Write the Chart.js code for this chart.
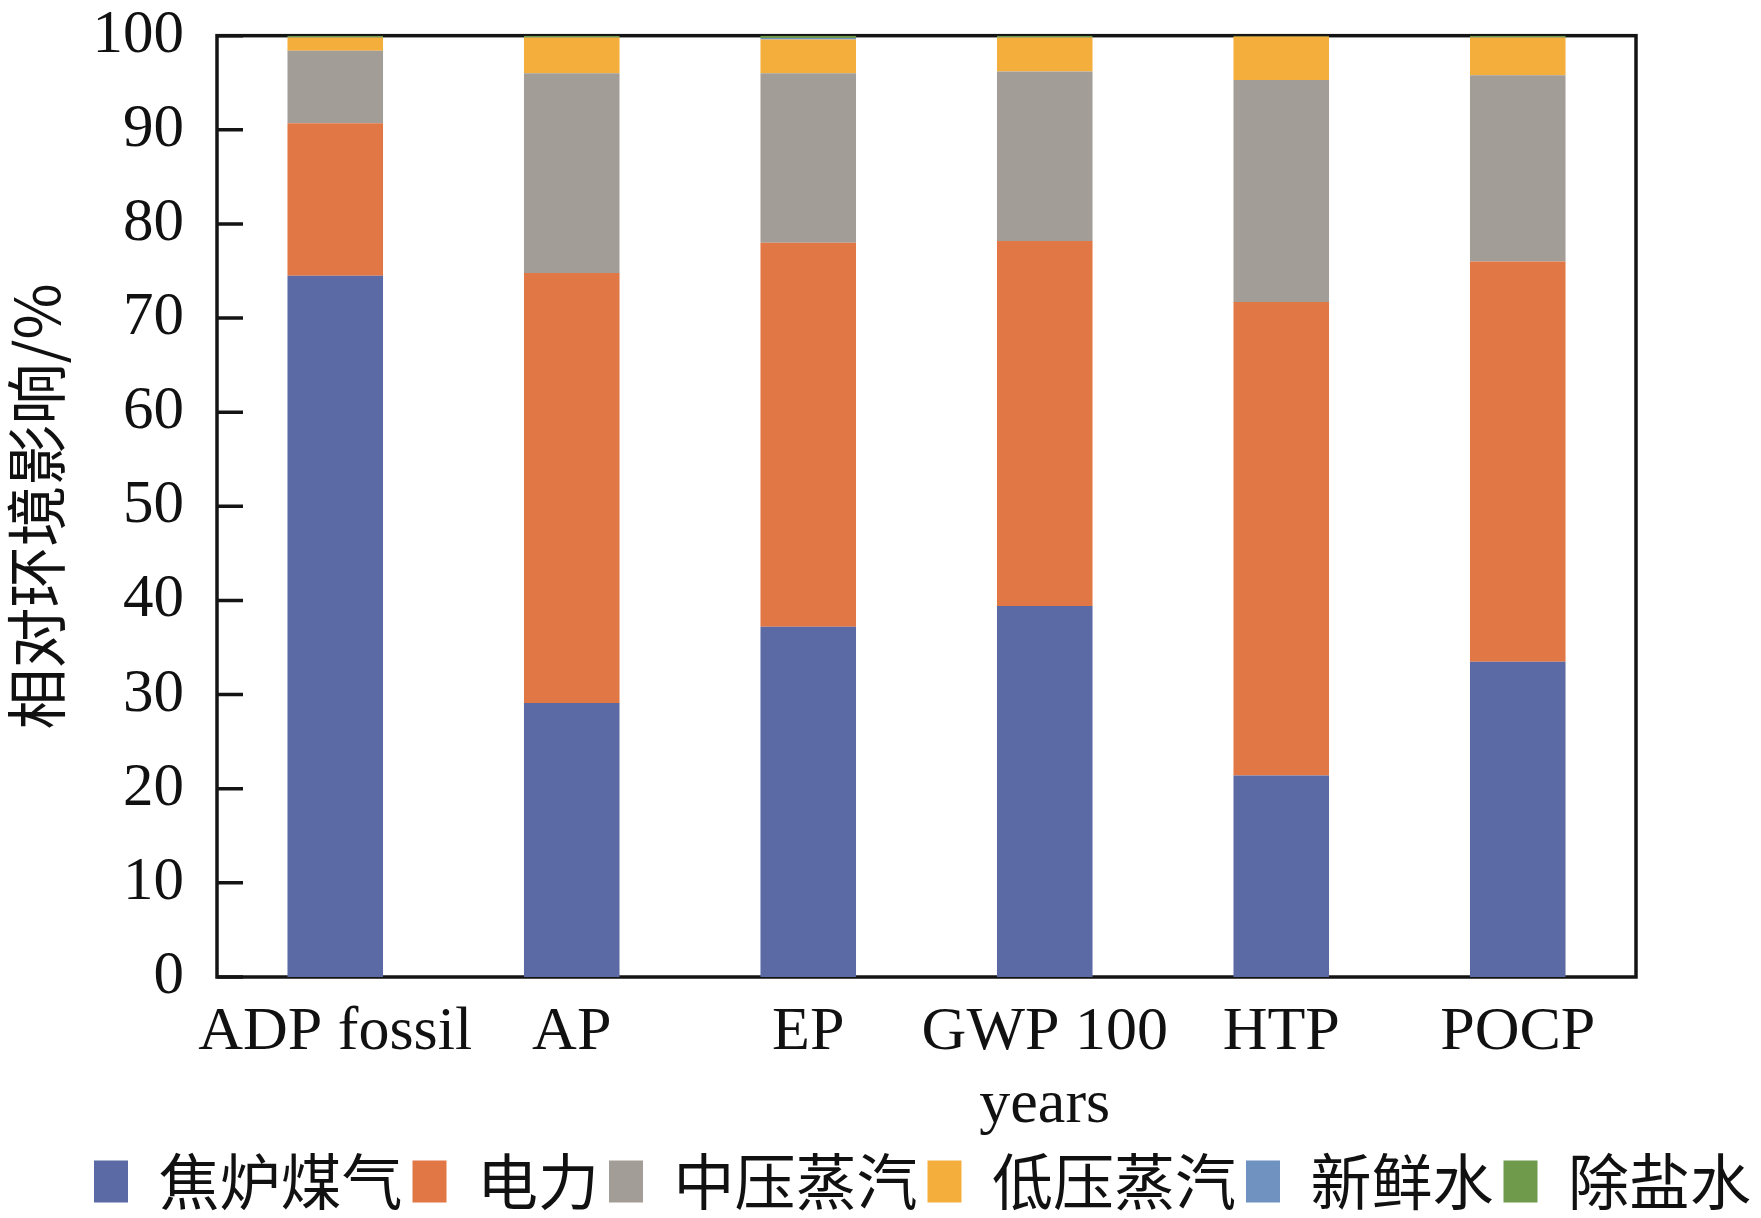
<!DOCTYPE html>
<html>
<head>
<meta charset="utf-8">
<script src="https://cdn.jsdelivr.net/npm/chart.js@4.4.1/dist/chart.umd.min.js"></script>
<style>
  html, body { margin: 0; padding: 0; background: #ffffff; }
</style>
</head>
<body>
<canvas id="impactChart" width="1761" height="1218"></canvas>
<script>
const categories = [["ADP fossil"], ["AP"], ["EP"], ["GWP 100", "years"], ["HTP"], ["POCP"]];

// share of each input in the relative impact, %
const cokeOvenGas = [74.5, 29.1, 37.2, 39.4, 21.4, 33.5];
const electricity = [16.2, 45.7, 40.8, 38.8, 50.3, 42.5];
const mpSteam = [7.7, 21.2, 18.0, 18.0, 23.6, 19.8];
const lpSteam = [1.4, 3.8, 3.6, 3.6, 4.6, 4.0];
const freshWater = [0.0, 0.0, 0.15, 0.0, 0.0, 0.0];
const desaltedWater = [0.2, 0.2, 0.25, 0.2, 0.1, 0.2];

const yTicks = [0, 10, 20, 30, 40, 50, 60, 70, 80, 90, 100];

const SERIF = "'Liberation Serif', 'Times New Roman', 'Noto Sans CJK SC', serif";
const CJK = "'Noto Sans CJK SC', 'Liberation Serif', sans-serif";

// box round the plot and inward ticks on the left axis
const frame = {
  id: "frame",
  beforeDatasetsDraw(chart) {
    const { ctx, chartArea: a, scales } = chart;
    ctx.save();
    ctx.strokeStyle = "#141414";
    ctx.lineWidth = 3.5;
    ctx.strokeRect(a.left, a.top, a.right - a.left, a.bottom - a.top);
    ctx.beginPath();
    yTicks.forEach((v) => {
      const y = scales.y.getPixelForValue(v);
      ctx.moveTo(a.left, y);
      ctx.lineTo(a.left + 26, y);
    });
    ctx.stroke();
    ctx.restore();
  },
};

new Chart(document.getElementById("impactChart"), {
  type: "bar",
  data: {
    labels: categories,
    datasets: [
      { label: "焦炉煤气", data: cokeOvenGas, backgroundColor: "#5b6aa5" },
      { label: "电力", data: electricity, backgroundColor: "#e07744" },
      { label: "中压蒸汽", data: mpSteam, backgroundColor: "#a39d97" },
      { label: "低压蒸汽", data: lpSteam, backgroundColor: "#f4ae3c" },
      { label: "新鲜水", data: freshWater, backgroundColor: "#6f92c0" },
      { label: "除盐水", data: desaltedWater, backgroundColor: "#6f9a4c" },
    ],
  },
  options: {
    responsive: false,
    animation: false,
    devicePixelRatio: 1,
    layout: { padding: { top: 0, left: 0, right: 0, bottom: -4 } },
    datasets: {
      bar: { categoryPercentage: 1, barPercentage: 0.404, borderWidth: 0 },
    },
    plugins: {
      tooltip: { enabled: false },
      legend: {
        position: "bottom",
        align: "end",
        labels: {
          color: "#111111",
          font: { family: CJK, size: 61 },
          boxWidth: 34,
          boxHeight: 42,
          padding: 10,
        },
      },
    },
    scales: {
      x: {
        stacked: true,
        afterFit: (scale) => { scale.height = 164; },
        grid: { display: false },
        border: { display: false },
        ticks: {
          color: "#111111",
          font: { family: SERIF, size: 62, lineHeight: 1.18 },
          padding: 11,
          maxRotation: 0,
          autoSkip: false,
        },
      },
      y: {
        stacked: true,
        min: 0,
        max: 100,
        afterFit: (scale) => { scale.width = 217; },
        grid: { display: false },
        border: { display: false },
        ticks: {
          stepSize: 10,
          color: "#111111",
          font: { family: SERIF, size: 61, lineHeight: 0.35 },
          padding: 25,
        },
        title: {
          display: true,
          text: "相对环境影响/%",
          color: "#111111",
          font: { family: CJK, size: 61 },
          padding: 0,
        },
      },
      right: {
        position: "right",
        display: true,
        afterFit: (scale) => { scale.width = 125; },
        grid: { display: false },
        border: { display: false },
        ticks: { display: false },
      },
    },
  },
  plugins: [frame],
});
</script>
</body>
</html>
